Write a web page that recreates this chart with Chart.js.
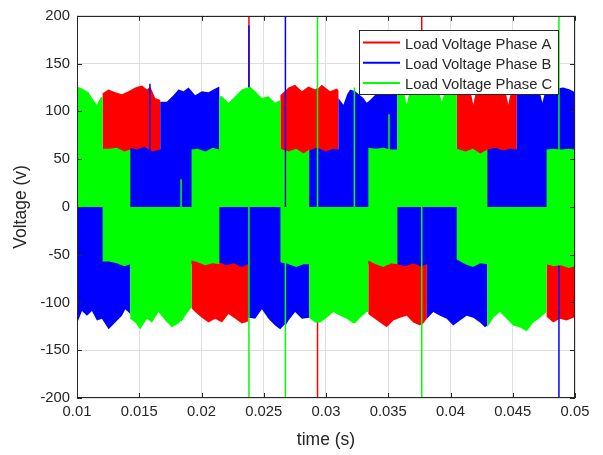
<!DOCTYPE html>
<html>
<head>
<meta charset="utf-8">
<title>Load Voltage</title>
<script src="https://cdn.jsdelivr.net/npm/chart.js@4.4.0/dist/chart.umd.min.js"></script>
<style>
  html, body { margin: 0; padding: 0; background: #fff; }
  #wrap { width: 603px; height: 455px; }
</style>
</head>
<body>
<div id="wrap"><canvas id="loadChart" width="603" height="455"></canvas></div>
<script>
// axis ticks
const xTicks = [0.01, 0.015, 0.02, 0.025, 0.03, 0.035, 0.04, 0.045, 0.05];
const xTickLabels = ['0.01', '0.015', '0.02', '0.025', '0.03', '0.035', '0.04', '0.045', '0.05'];
const yTicks = [-200, -150, -100, -50, 0, 50, 100, 150, 200];
const yTickLabels = ['-200', '-150', '-100', '-50', '0', '50', '100', '150', '200'];

const phaseLabels = ['Load Voltage Phase A', 'Load Voltage Phase B', 'Load Voltage Phase C'];

// Each row: [time (s), upper edge of the switching band (V), lower edge (V)]
// Rows with the same time are the step changes.
const phaseA = [
  [0.01000, 60, -60], [0.01206, 60, -60],
  [0.01206, 119, 0], [0.01254, 123, 0], [0.01307, 120, 0], [0.01361, 118, 0], [0.01414, 121, 0],
  [0.01468, 125, 0], [0.01522, 127, 0], [0.01562, 123, 0], [0.01588, 126, 0], [0.01628, 114, 0], [0.01669, 112, 0],
  [0.01669, 60, -60], [0.01920, 60, -60],
  [0.01920, 0, -106], [0.01949, 0, -110], [0.02003, 0, -116], [0.02056, 0, -121], [0.02110, 0, -117],
  [0.02164, 0, -121], [0.02217, 0, -112], [0.02271, 0, -117], [0.02324, 0, -122], [0.02373, 0, -120],
  [0.02373, 60, -60], [0.02634, 60, -60],
  [0.02634, 117, 0], [0.02699, 125, 0], [0.02752, 128, 0], [0.02806, 121, 0], [0.02859, 126, 0],
  [0.02913, 123, 0], [0.02966, 128, 0], [0.03033, 121, 0], [0.03087, 124, 0], [0.03100, 122, 0],
  [0.03100, 60, -60], [0.03340, 60, -60],
  [0.03340, 0, -112], [0.03380, 0, -116], [0.03434, 0, -121], [0.03488, 0, -126], [0.03541, 0, -119],
  [0.03595, 0, -116], [0.03648, 0, -114], [0.03701, 0, -121], [0.03755, 0, -124], [0.03810, 0, -117],
  [0.03810, 60, -60], [0.04050, 60, -60],
  [0.04050, 118, 0], [0.04100, 124, 0], [0.04140, 121, 0], [0.04168, 117, 0], [0.04183, 107, 0], [0.04198, 117, 0],
  [0.04250, 120, 0], [0.04310, 126, 0], [0.04370, 122, 0], [0.04420, 125, 0], [0.04449, 117, 0], [0.04464, 107, 0],
  [0.04479, 117, 0], [0.04532, 118, 0],
  [0.04532, 60, -60], [0.04772, 60, -60],
  [0.04772, 0, -115], [0.04825, 0, -121], [0.04879, 0, -117], [0.04933, 0, -119], [0.04986, 0, -116], [0.05000, 0, -116]
];
const phaseB = [
  [0.01000, 0, -122], [0.01040, 0, -109], [0.01080, 0, -114], [0.01120, 0, -109], [0.01160, 0, -119],
  [0.01200, 0, -117], [0.01254, 0, -128], [0.01307, 0, -121], [0.01361, 0, -114], [0.01388, 0, -107], [0.01428, 0, -112],
  [0.01428, 62, -60], [0.01480, 60, -60], [0.01540, 63, -60], [0.01600, 58, -60], [0.01669, 60, -60],
  [0.01669, 110, 0], [0.01722, 110, 0], [0.01775, 117, 0], [0.01815, 123, 0], [0.01856, 121, 0], [0.01896, 125, 0],
  [0.01949, 117, 0], [0.02003, 121, 0], [0.02056, 120, 0], [0.02096, 123, 0], [0.02143, 126, 0],
  [0.02143, 60, -58], [0.02200, 60, -61], [0.02260, 60, -59], [0.02320, 60, -63], [0.02373, 60, -60],
  [0.02373, 0, -116], [0.02431, 0, -117], [0.02485, 0, -107], [0.02538, 0, -117], [0.02591, 0, -124],
  [0.02632, 0, -128], [0.02699, 0, -119], [0.02752, 0, -110], [0.02806, 0, -117], [0.02865, 0, -116],
  [0.02865, 59, -60], [0.02930, 62, -60], [0.03000, 58, -60], [0.03060, 61, -60], [0.03100, 60, -60],
  [0.03100, 114, 0], [0.03140, 107, 0], [0.03170, 118, 0], [0.03194, 123, 0], [0.03234, 121, 0], [0.03300, 114, 0],
  [0.03327, 109, 0], [0.03354, 112, 0], [0.03400, 118, 0], [0.03460, 122, 0], [0.03520, 120, 0], [0.03573, 119, 0],
  [0.03573, 60, -60], [0.03640, 60, -62], [0.03700, 60, -59], [0.03760, 60, -62], [0.03810, 60, -60],
  [0.03810, 0, -117], [0.03862, 0, -110], [0.03916, 0, -114], [0.03970, 0, -117], [0.04022, 0, -124],
  [0.04076, 0, -119], [0.04130, 0, -114], [0.04183, 0, -116], [0.04237, 0, -121], [0.04277, 0, -126], [0.04296, 0, -124],
  [0.04296, 60, -60], [0.04360, 62, -60], [0.04420, 59, -60], [0.04480, 61, -60], [0.04532, 60, -60],
  [0.04532, 120, 0], [0.04580, 124, 0], [0.04630, 121, 0], [0.04680, 125, 0], [0.04723, 117, 0], [0.04738, 109, 0],
  [0.04753, 117, 0], [0.04790, 122, 0], [0.04840, 124, 0], [0.04905, 125, 0], [0.04959, 123, 0], [0.05000, 120, 0]
];
const phaseC = [
  [0.01000, 126, 0], [0.01040, 124, 0], [0.01093, 120, 0], [0.01120, 114, 0], [0.01160, 107, 0], [0.01187, 114, 0], [0.01206, 116, 0],
  [0.01206, 61, -57], [0.01260, 61, -57], [0.01320, 62, -59], [0.01380, 58, -62], [0.01428, 60, -60],
  [0.01428, 0, -117], [0.01468, 0, -121], [0.01508, 0, -128], [0.01562, 0, -117], [0.01602, 0, -121],
  [0.01655, 0, -110], [0.01709, 0, -119], [0.01762, 0, -126], [0.01815, 0, -122], [0.01869, 0, -114], [0.01920, 0, -105],
  [0.01920, 60, -56], [0.01970, 61, -58], [0.02030, 58, -61], [0.02090, 62, -59], [0.02143, 60, -60],
  [0.02143, 116, 0], [0.02164, 116, 0], [0.02217, 109, 0], [0.02271, 116, 0], [0.02324, 123, 0], [0.02390, 126, 0],
  [0.02431, 121, 0], [0.02485, 114, 0], [0.02538, 116, 0], [0.02591, 109, 0], [0.02634, 112, 0],
  [0.02634, 61, -58], [0.02700, 58, -60], [0.02760, 61, -63], [0.02820, 56, -60], [0.02865, 60, -60],
  [0.02865, 0, -116], [0.02913, 0, -121], [0.02953, 0, -121], [0.03006, 0, -116], [0.03060, 0, -110],
  [0.03113, 0, -114], [0.03167, 0, -117], [0.03220, 0, -122], [0.03274, 0, -116], [0.03327, 0, -110], [0.03340, 0, -110],
  [0.03340, 62, -56], [0.03400, 61, -60], [0.03460, 62, -63], [0.03520, 60, -59], [0.03573, 60, -60],
  [0.03573, 118, 0], [0.03610, 121, 0], [0.03632, 117, 0], [0.03648, 107, 0], [0.03664, 117, 0], [0.03720, 124, 0],
  [0.03780, 122, 0], [0.03840, 126, 0], [0.03890, 121, 0], [0.03915, 117, 0], [0.03930, 110, 0], [0.03945, 117, 0],
  [0.03990, 123, 0], [0.04050, 120, 0],
  [0.04050, 61, -55], [0.04120, 58, -60], [0.04180, 61, -63], [0.04240, 56, -59], [0.04296, 60, -60],
  [0.04296, 0, -126], [0.04344, 0, -116], [0.04397, 0, -110], [0.04451, 0, -117], [0.04504, 0, -124],
  [0.04555, 0, -126], [0.04612, 0, -130], [0.04665, 0, -121], [0.04719, 0, -116], [0.04772, 0, -110],
  [0.04772, 60, -60], [0.04830, 61, -62], [0.04890, 60, -61], [0.04950, 61, -64], [0.05000, 60, -62]
];

// single-sample spikes: [time, upper edge or null, lower edge or null]
const phaseASpikes = [[0.02375, 215, null], [0.02926, null, -215], [0.03763, 215, null]];
const phaseBSpikes = [[0.01580, 129, null], [0.02375, 190, null], [0.02668, 215, null], [0.04865, null, -215]];
const phaseCSpikes = [[0.01830, 29, null], [0.02375, null, -215], [0.02668, 0, -215], [0.02926, 215, null],
  [0.03222, 125, null], [0.03500, 97, null], [0.03763, null, -215], [0.04865, 215, null]];

const phaseColors = ['#ff0000', '#0000ff', '#00ff00'];
const axisColor = '#262626';
const fontFamily = '"Liberation Sans", Arial, Helvetica, sans-serif';
const spikeWidth = 0.00012;

// put the spikes into the band rows as narrow slivers
function withSpikes(rows, spikes) {
  const out = rows.slice();
  spikes.forEach(([t, hi, lo]) => {
    let i = out.findIndex(r => r[0] > t);
    if (i < 0) i = out.length;
    const a = out[i - 1], b = out[i] || a;
    const f = b[0] === a[0] ? 0 : (t - a[0]) / (b[0] - a[0]);
    const h = a[1] + (b[1] - a[1]) * f;
    const l = a[2] + (b[2] - a[2]) * f;
    const sh = hi === null ? h : hi;
    const sl = lo === null ? l : lo;
    out.splice(i, 0, [t, h, l], [t, sh, sl], [t + spikeWidth, sh, sl], [t + spikeWidth, h, l]);
  });
  return out;
}

const phases = [
  { rows: withSpikes(phaseA, phaseASpikes), order: 3 },
  { rows: withSpikes(phaseB, phaseBSpikes), order: 2 },
  { rows: withSpikes(phaseC, phaseCSpikes), order: 1 }
];

const datasets = [];
phases.forEach((p, k) => {
  // upper edge, filled down to the lower edge dataset right after it
  datasets.push({
    label: phaseLabels[k],
    data: p.rows.map(r => ({ x: r[0], y: r[1] })),
    fill: '+1',
    backgroundColor: phaseColors[k],
    borderColor: 'rgba(0,0,0,0)',
    borderWidth: 0,
    pointRadius: 0,
    tension: 0,
    order: p.order
  });
  datasets.push({
    label: phaseLabels[k] + ' lower',
    data: p.rows.map(r => ({ x: r[0], y: r[2] })),
    fill: false,
    borderColor: 'rgba(0,0,0,0)',
    borderWidth: 0,
    pointRadius: 0,
    tension: 0,
    order: p.order
  });
});

// MATLAB style box, inward ticks and the legend inside the axes
const boxAndLegend = {
  id: 'boxAndLegend',
  afterDatasetsDraw(chart) {
    const { ctx, chartArea: a, scales: { x, y } } = chart;
    ctx.save();
    ctx.strokeStyle = axisColor;
    ctx.lineWidth = 1;
    ctx.beginPath();
    xTicks.forEach(v => {
      const px = Math.round(x.getPixelForValue(v)) + 0.5;
      ctx.moveTo(px, a.bottom); ctx.lineTo(px, a.bottom - 5);
      ctx.moveTo(px, a.top); ctx.lineTo(px, a.top + 5);
    });
    yTicks.forEach(v => {
      const py = Math.round(y.getPixelForValue(v)) + 0.5;
      ctx.moveTo(a.left, py); ctx.lineTo(a.left + 5, py);
      ctx.moveTo(a.right, py); ctx.lineTo(a.right - 5, py);
    });
    ctx.stroke();
    ctx.strokeRect(Math.round(a.left) + 0.5, Math.round(a.top) + 0.5,
      Math.round(a.right - a.left) - 1, Math.round(a.bottom - a.top) - 1);

    // legend
    const lx = 359, ly = 30, lw = 199, lh = 64;
    ctx.fillStyle = '#ffffff';
    ctx.fillRect(lx, ly, lw, lh);
    ctx.strokeStyle = axisColor;
    ctx.strokeRect(lx + 0.5, ly + 0.5, lw, lh);
    ctx.font = '14.8px ' + fontFamily;
    ctx.textBaseline = 'alphabetic';
    ctx.textAlign = 'left';
    phaseLabels.forEach((txt, k) => {
      const rowY = ly + 12.5 + k * 20.2;
      ctx.strokeStyle = phaseColors[k];
      ctx.lineWidth = 2;
      ctx.beginPath();
      ctx.moveTo(363, rowY); ctx.lineTo(400, rowY);
      ctx.stroke();
      ctx.fillStyle = axisColor;
      ctx.fillText(txt, 405, rowY + 6);
    });
    ctx.restore();
  }
};

new Chart(document.getElementById('loadChart'), {
  type: 'line',
  data: { datasets: datasets },
  options: {
    responsive: false,
    devicePixelRatio: 1,
    animation: false,
    events: [],
    layout: { padding: { top: 14, right: 28, left: 0, bottom: 0 } },
    plugins: {
      legend: { display: false },
      tooltip: { enabled: false },
      filler: { propagate: false }
    },
    scales: {
      x: {
        type: 'linear',
        min: 0.01,
        max: 0.05,
        afterBuildTicks: s => { s.ticks = xTicks.map(v => ({ value: v })); },
        afterFit: s => { s.height = 57; },
        ticks: {
          autoSkip: false,
          maxRotation: 0,
          padding: 5,
          color: axisColor,
          font: { family: fontFamily, size: 14.8 },
          callback: (v, i) => xTickLabels[i]
        },
        grid: { color: '#dfdfdf', drawTicks: false },
        border: { display: false },
        title: {
          display: true,
          text: 'time (s)',
          color: axisColor,
          font: { family: fontFamily, size: 17.5 },
          padding: { top: 0, bottom: 4 }
        }
      },
      y: {
        type: 'linear',
        min: -200,
        max: 200,
        afterBuildTicks: s => { s.ticks = yTicks.map(v => ({ value: v })); },
        afterFit: s => { s.width = 77; },
        ticks: {
          autoSkip: false,
          padding: 7,
          color: axisColor,
          font: { family: fontFamily, size: 14.8 },
          callback: (v, i) => yTickLabels[i]
        },
        grid: { color: '#dfdfdf', drawTicks: false },
        border: { display: false },
        title: {
          display: true,
          text: 'Voltage (v)',
          color: axisColor,
          font: { family: fontFamily, size: 17.5 },
          padding: { top: 11, bottom: 0 }
        }
      }
    }
  },
  plugins: [boxAndLegend]
});
</script>
</body>
</html>
